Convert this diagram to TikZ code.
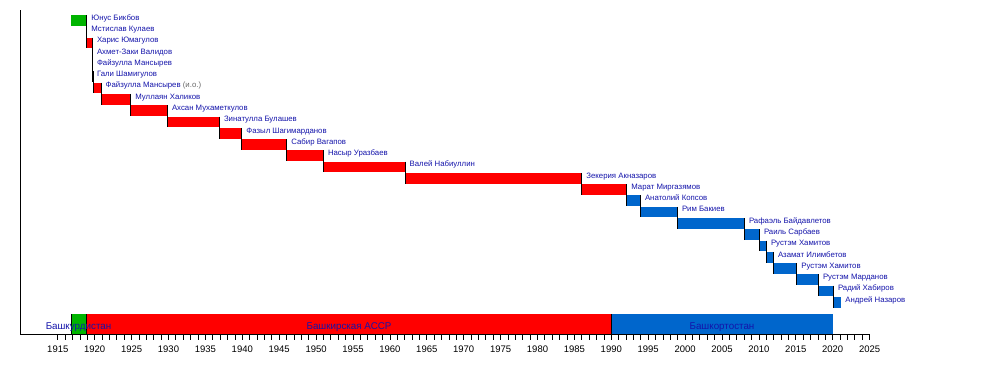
\documentclass[tikz,border=0pt]{standalone}
\usepackage{fontspec}
\setmainfont{Liberation Sans}
\definecolor{tlgreen}{RGB}{0,180,0}
\definecolor{tlred}{RGB}{255,0,0}
\definecolor{tlblue}{RGB}{0,102,204}
\definecolor{tltext}{RGB}{20,20,170}
\definecolor{tlgray}{RGB}{105,105,105}
\tikzset{
  namelbl/.style={anchor=base west, text=tltext, font=\fontsize{7.8}{8}\selectfont, inner sep=0pt},
  yearlbl/.style={anchor=base, text=black, font=\fontsize{9.5}{10}\selectfont, inner sep=0pt},
  periodlbl/.style={anchor=base, text=tltext, font=\fontsize{9.8}{10}\selectfont, inner sep=0pt},
  markline/.style={black, line width=1pt},
  axisline/.style={black, line width=1pt},
  tickline/.style={black, line width=0.8pt},
}
\begin{document}
\begin{tikzpicture}[x=1pt, y=-1pt]
\useasboundingbox (0,0) rectangle (1000,364);
% office bars
\foreach \s/\e/\c/\t [count=\i] in {
  71.3/86.7/tlgreen/{Юнус Бикбов},
  86.7/86.7/white/{Мстислав Кулаев},
  86.7/92.3/tlred/{Харис Юмагулов},
  92.3/92.3/white/{Ахмет-Заки Валидов},
  92.3/92.3/white/{Файзулла Мансырев},
  92.3/92.3/white/{Гали Шамигулов},
  93.3/101/tlred/{Файзулла Мансырев {\color{tlgray}(и.о.)}},
  101/130.7/tlred/{Муллаян Халиков},
  130.7/167.3/tlred/{Ахсан Мухаметкулов},
  167.3/219.3/tlred/{Зинатулла Булашев},
  219.3/241.7/tlred/{Фазыл Шагимарданов},
  241.7/286.7/tlred/{Сабир Вагапов},
  286.7/323.3/tlred/{Насыр Уразбаев},
  323.3/405/tlred/{Валей Набиуллин},
  405/581.7/tlred/{Зекерия Акназаров},
  581.7/626.7/tlred/{Марат Миргазямов},
  626.7/640.3/tlblue/{Анатолий Копсов},
  640.3/677.3/tlblue/{Рим Бакиев},
  677.3/744.3/tlblue/{Рафаэль Байдавлетов},
  744.3/759.3/tlblue/{Раиль Сарбаев},
  759.3/766.3/tlblue/{Рустэм Хамитов},
  766.3/773.3/tlblue/{Азамат Илимбетов},
  773.3/796.7/tlblue/{Рустэм Хамитов},
  796.7/818.3/tlblue/{Рустэм Марданов},
  818.3/833.3/tlblue/{Радий Хабиров},
  833.3/840.7/tlblue/{Андрей Назаров}} {
  \pgfmathsetmacro\rtop{15+(\i-1)*11.28}
  \pgfmathsetmacro\rbot{\rtop+10.7}
  \pgfmathsetmacro\rprev{\rtop-11.28}
  \pgfmathsetmacro\rbase{\rtop+5.2}
  \fill[\c] (\s,\rtop) rectangle (\e,\rbot);
  \ifnum\i>1
    \draw[markline] (\s,\rprev) -- (\s,\rbot);
  \fi
  \node[namelbl] (n\i) at (\e+4.5,\rbase) {\t};
}
% period bar
\fill[tlgreen] (71.3,314) rectangle (86.7,334.3);
\fill[tlred] (86.7,314) rectangle (611.3,334.3);
\fill[tlblue] (611.3,314) rectangle (833.3,334.3);
\foreach \px in {71.3,86.7,611.3} {
  \draw[markline] (\px,314) -- (\px,334.3);
}
\node[periodlbl] (p1) at (78.5,329) {Башкурдистан};
\node[periodlbl] (p2) at (349,329) {Башкирская АССР};
\node[periodlbl] (p3) at (722,329) {Башкортостан};
% axes
\draw[axisline] (20.7,10) -- (20.7,334.3) -- (869.6,334.3);
\foreach \yr in {1915,...,2025} {
  \pgfmathsetmacro\tx{57.8+(\yr-1915)*7.38}
  \draw[tickline] (\tx,334.3) -- (\tx,339.5);
}
\foreach \yr in {1915,1920,...,2025} {
  \pgfmathsetmacro\tx{57.8+(\yr-1915)*7.38}
  \node[yearlbl] (y\yr) at (\tx,352.7) {\yr};
}
\end{tikzpicture}
\end{document}
